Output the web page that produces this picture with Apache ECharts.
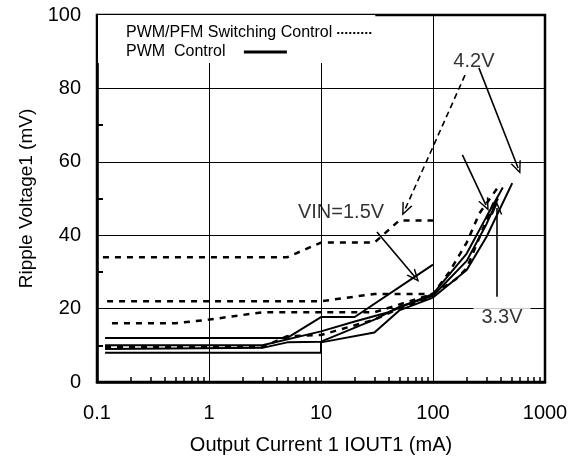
<!DOCTYPE html>
<html><head><meta charset="utf-8">
<script src="https://cdn.jsdelivr.net/npm/echarts@6/dist/echarts.min.js"></script>
<style>html,body{margin:0;padding:0;background:#fff}#c{width:580px;height:464px}</style>
</head><body><div id="c"></div>
<script>
// ---- data ----
const xTickLabels = ['0.1', '1', '10', '100', '1000'];
const yTickLabels = ['0', '20', '40', '60', '80', '100'];
const legendNames = ['PWM/PFM Switching Control', 'PWM  Control'];

// PWM/PFM switching control (dashed)
const pfm1X = [0.113, 5, 10, 30, 50, 100];
const pfm1Y = [34, 34, 38, 38, 44, 44];
const pfm2X = [0.123, 10, 30, 100, 140, 200, 260, 400];
const pfm2Y = [22, 22, 24, 24, 30, 38, 46, 54];
const pfm3X = [0.136, 0.5, 1, 3, 30, 100, 160, 200, 300, 360];
const pfm3Y = [16, 16, 17, 19, 19, 24, 28, 31, 44, 50];
const pfm4X = [0.118, 3, 5, 10, 30, 50, 100];
const pfm4Y = [9.5, 9.5, 12.5, 12.8, 17, 20, 23.5];

// PWM control (solid)
const pwm1X = [0.118, 5, 10, 20, 100];
const pwm1Y = [12, 12, 17.7, 17.7, 32];
const pwm2X = [0.118, 10, 10, 30, 50, 100, 200, 300, 510];
const pwm2Y = [8, 8, 10.8, 13.5, 19.5, 23, 30.5, 39.5, 54.2];
const pwm3X = [0.118, 3, 10, 20, 40, 100, 200, 300, 420];
const pwm3Y = [10, 10, 13.8, 16.5, 19, 24, 35, 45, 53];
const pwm4X = [0.118, 3, 5, 10, 30, 50, 100, 200, 300, 380];
const pwm4Y = [9, 9.3, 10.8, 11, 17, 20.5, 23.5, 33, 43, 50];

// annotations: labels and arrows (data coordinates)
const annLabels = ['4.2V', '3.3V', 'VIN=1.5V'];
const annLabelX = [232, 413, 15.1];
const annLabelY = [87.2, 17.7, 46.3];
const arrowFromX = [193, 257, 183, 372, 31.6];
const arrowFromY = [83.6, 85.6, 61.9, 23.2, 40.9];
const arrowToX = [56, 575, 297, 372, 69];
const arrowToY = [46.9, 58.3, 48.2, 47.4, 28.6];
const arrowDashed = [true, false, false, false, false];

// ---- chart ----
const FONT = '"Liberation Sans", Arial, sans-serif';
const zip = (xs, ys) => xs.map((x, i) => [x, ys[i]]);
const chevron = 'path://M5,0 L10,10 L8.6,10 L5,2.8 L1.4,10 L0,10 Z';
let dots = 'path://';
for (let i = 0; i < 9; i++) dots += 'M' + (i * 4) + ',0h2v2h-2z ';
const bar = 'path://M0,0h43v3h-43z';

function lineSeries(name, xs, ys, dashed) {
  return {
    name: name, type: 'line', data: zip(xs, ys), symbol: 'none', silent: true,
    lineStyle: { color: '#000', width: dashed ? 2.5 : 2, type: dashed ? [6, 6] : 'solid' },
    itemStyle: { color: '#000' }, z: 3
  };
}

const series = [
  lineSeries(legendNames[0], pfm1X, pfm1Y, true),
  lineSeries(legendNames[0], pfm2X, pfm2Y, true),
  lineSeries(legendNames[0], pfm3X, pfm3Y, true),
  lineSeries(legendNames[0], pfm4X, pfm4Y, true),
  lineSeries(legendNames[1], pwm1X, pwm1Y, false),
  lineSeries(legendNames[1], pwm2X, pwm2Y, false),
  lineSeries(legendNames[1], pwm3X, pwm3Y, false),
  lineSeries(legendNames[1], pwm4X, pwm4Y, false),
  {
    name: 'annotations', type: 'scatter', symbolSize: 0, silent: true, z: 6,
    data: annLabels.map((t, i) => ({ value: [annLabelX[i], annLabelY[i]], name: t,
      label: i === 1 ? { backgroundColor: '#fff', padding: [2, 8, 2, 8] } : {} })),
    label: { show: true, position: 'inside', formatter: p => p.name, color: '#000',
      fontSize: 20, fontFamily: FONT },
    markLine: {
      silent: true, symbol: ['none', chevron], symbolSize: [11, 13],
      label: { show: false }, animation: false,
      data: arrowFromX.map((fx, i) => [
        { coord: [fx, arrowFromY[i]], lineStyle: { color: '#000', width: 1.6, type: arrowDashed[i] ? [6, 4] : 'solid' } },
        { coord: [arrowToX[i], arrowToY[i]] }
      ])
    }
  }
];

const legendText = { fontSize: 16, fontFamily: FONT, color: '#000' };
const chart = echarts.init(document.getElementById('c'), null, { renderer: 'canvas' });
chart.setOption({
  animation: false,
  backgroundColor: '#fff',
  grid: { left: 97, right: 35, top: 15, bottom: 82, show: true, borderColor: '#000', borderWidth: 2.5, backgroundColor: 'transparent' },
  legend: [
    {
      data: [{ name: legendNames[0], icon: dots }],
      orient: 'horizontal', align: 'right', left: 98, top: 15,
      padding: [10, 4, 22, 28], itemWidth: 34, itemHeight: 2, symbolKeepAspect: false,
      backgroundColor: '#fff', selectedMode: false, textStyle: legendText, z: 5
    },
    {
      data: [{ name: legendNames[1], icon: bar }],
      orient: 'horizontal', align: 'right', left: 126, top: 44,
      padding: 0, itemWidth: 43, itemHeight: 3, symbolKeepAspect: false,
      formatter: n => n + '   ',
      selectedMode: false, textStyle: legendText, z: 6
    }
  ],
  xAxis: {
    type: 'log', logBase: 10, min: 0.1, max: 1000,
    name: 'Output Current 1 IOUT1 (mA)', nameLocation: 'middle', nameGap: 53,
    nameTextStyle: { fontSize: 20, fontFamily: FONT, color: '#000' },
    axisLine: { show: true, lineStyle: { color: '#000', width: 2.5 } },
    axisTick: { show: false, inside: true },
    minorTick: { show: true, splitNumber: 9, length: 5, lineStyle: { color: '#000', width: 1.5 } },
    splitLine: { show: true, lineStyle: { color: '#000', width: 1 } },
    axisLabel: { fontSize: 20, fontFamily: FONT, color: '#000', margin: 21,
      formatter: v => xTickLabels.find(t => Math.abs(parseFloat(t) - v) < 1e-9 * Math.max(1, v)) || '' }
  },
  yAxis: {
    type: 'value', min: 0, max: 100, interval: 20,
    name: 'Ripple Voltage1 (mV)', nameLocation: 'middle', nameGap: 60,
    nameTextStyle: { fontSize: 19, fontFamily: FONT, color: '#000' },
    axisLine: { show: true, lineStyle: { color: '#000', width: 2.5 } },
    axisTick: { show: false, inside: true },
    minorTick: { show: true, splitNumber: 2, length: 6, lineStyle: { color: '#000', width: 2 } },
    splitLine: { show: true, lineStyle: { color: '#000', width: 1 } },
    axisLabel: { fontSize: 20, fontFamily: FONT, color: '#000', margin: 16,
      formatter: v => yTickLabels[Math.round(v / 20)] }
  },
  series: series
});
</script>
</body></html>
